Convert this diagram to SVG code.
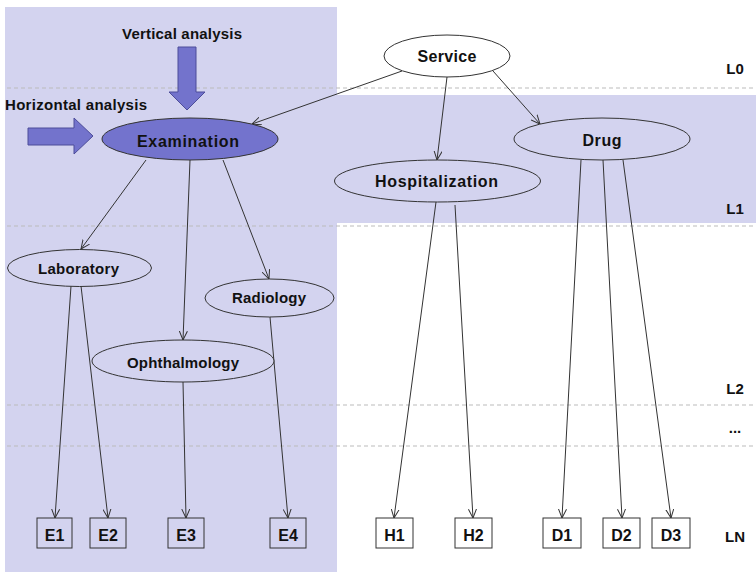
<svg xmlns="http://www.w3.org/2000/svg" width="756" height="572" viewBox="0 0 756 572">
<defs>
<marker id="ah" viewBox="0 0 10 10" refX="10" refY="5" markerWidth="9" markerHeight="9" orient="auto" markerUnits="userSpaceOnUse">
<path d="M0,0.5 L10,5 L0,9.5" fill="none" stroke="#333" stroke-width="1.1"/>
</marker>
<style>
text{font-family:"Liberation Sans","Arial",sans-serif;font-weight:bold;fill:#111;}
.n{fill:#d3d3ef;stroke:#333;stroke-width:1;}
.w{fill:#ffffff;stroke:#333;stroke-width:1;}
.ex{fill:#7373cd;stroke:#333;stroke-width:1;}
.dash{stroke:#bbb;stroke-width:1;stroke-dasharray:4,3;fill:none;}
.c line{stroke:#333;stroke-width:1;marker-end:url(#ah);}
.big{font-size:16px;}
.ana{font-size:15px;}
.mid{font-size:15px;}
.lv{font-size:15px;}
.blk{fill:#7373cc;stroke:#4d4d99;stroke-width:1;}
</style>
</defs>
<rect width="756" height="572" fill="#fff"/>
<g id="background">
<rect x="5" y="7" width="332" height="565" fill="#d3d3ef"/>
<rect x="337" y="95" width="419" height="128" fill="#d3d3ef"/>
<line class="dash" x1="7" y1="88" x2="756" y2="88"/>
<line class="dash" x1="7" y1="226" x2="756" y2="226"/>
<line class="dash" x1="7" y1="405" x2="756" y2="405"/>
<line class="dash" x1="7" y1="446" x2="756" y2="446"/>
</g>
<g id="levels">
<text class="lv" x="735" y="74" text-anchor="middle">L0</text>
<text class="lv" x="735" y="214" text-anchor="middle">L1</text>
<text class="lv" x="735" y="394" text-anchor="middle">L2</text>
<text class="lv" x="735" y="433" text-anchor="middle">...</text>
<text class="lv" x="735" y="542" text-anchor="middle">LN</text>
</g>
<g id="vertical-analysis">
<text class="ana" x="182" y="39" text-anchor="middle" textLength="120">Vertical analysis</text>
<path class="blk" d="M178,47 H196 V92 H205 L187,110 L169,92 H178 Z"/>
</g>
<g id="horizontal-analysis">
<text class="ana" x="5" y="110" textLength="142">Horizontal analysis</text>
<path class="blk" d="M28,128 H74 V118 L93,136 L74,154 V145 H28 Z"/>
</g>
<g class="c" id="connectors">
<line x1="402" y1="71" x2="252" y2="124"/>
<line x1="447" y1="77" x2="437" y2="160"/>
<line x1="493" y1="71" x2="540" y2="124"/>
<line x1="146" y1="160" x2="81" y2="249"/>
<line x1="190" y1="160" x2="183" y2="340"/>
<line x1="223" y1="160" x2="269" y2="279"/>
<line x1="71" y1="286" x2="55" y2="518"/>
<line x1="81" y1="286" x2="108" y2="518"/>
<line x1="183" y1="382" x2="186" y2="518"/>
<line x1="270" y1="317" x2="288" y2="518"/>
<line x1="436" y1="202" x2="394" y2="518"/>
<line x1="455" y1="205" x2="473" y2="518"/>
<line x1="581" y1="160" x2="562" y2="518"/>
<line x1="603" y1="160" x2="622" y2="518"/>
<line x1="623" y1="160" x2="671" y2="518"/>
</g>
<g id="service">
<ellipse class="w" cx="447" cy="56" rx="63" ry="21"/>
<text class="big" x="447" y="62" text-anchor="middle" textLength="59">Service</text>
</g>
<g id="examination">
<ellipse class="ex" cx="190" cy="139" rx="88" ry="21"/>
<text class="big" x="188" y="147" text-anchor="middle" textLength="102">Examination</text>
</g>
<g id="drug">
<ellipse class="n" cx="602" cy="139" rx="88" ry="21"/>
<text class="big" x="602" y="146" text-anchor="middle" textLength="39">Drug</text>
</g>
<g id="hospitalization">
<ellipse class="n" cx="437.5" cy="181" rx="103" ry="21"/>
<text class="big" x="436.5" y="187" text-anchor="middle" textLength="123">Hospitalization</text>
</g>
<g id="laboratory">
<ellipse class="n" cx="79.5" cy="268" rx="72" ry="18.5"/>
<text class="mid" x="78.5" y="274" text-anchor="middle" textLength="81">Laboratory</text>
</g>
<g id="radiology">
<ellipse class="n" cx="269.5" cy="298" rx="64.5" ry="19"/>
<text class="mid" x="269" y="303" text-anchor="middle" textLength="74">Radiology</text>
</g>
<g id="ophthalmology">
<ellipse class="n" cx="183" cy="361" rx="91" ry="21"/>
<text class="mid" x="183" y="368" text-anchor="middle" textLength="112">Ophthalmology</text>
</g>
<g id="E1"><rect class="n" x="37" y="518" width="35" height="30"/><text class="big" x="54.5" y="541" text-anchor="middle">E1</text></g>
<g id="E2"><rect class="n" x="90" y="518" width="36" height="30"/><text class="big" x="108" y="541" text-anchor="middle">E2</text></g>
<g id="E3"><rect class="n" x="168" y="518" width="36" height="30"/><text class="big" x="186" y="541" text-anchor="middle">E3</text></g>
<g id="E4"><rect class="n" x="270" y="518" width="36" height="30"/><text class="big" x="288" y="541" text-anchor="middle">E4</text></g>
<g id="H1"><rect class="w" x="376" y="518" width="37" height="30"/><text class="big" x="394.5" y="541" text-anchor="middle">H1</text></g>
<g id="H2"><rect class="w" x="455" y="518" width="37" height="30"/><text class="big" x="473.5" y="541" text-anchor="middle">H2</text></g>
<g id="D1"><rect class="w" x="543" y="518" width="38" height="30"/><text class="big" x="562" y="541" text-anchor="middle">D1</text></g>
<g id="D2"><rect class="w" x="603" y="518" width="37" height="30"/><text class="big" x="621.5" y="541" text-anchor="middle">D2</text></g>
<g id="D3"><rect class="w" x="652" y="518" width="38" height="30"/><text class="big" x="671" y="541" text-anchor="middle">D3</text></g>
</svg>
